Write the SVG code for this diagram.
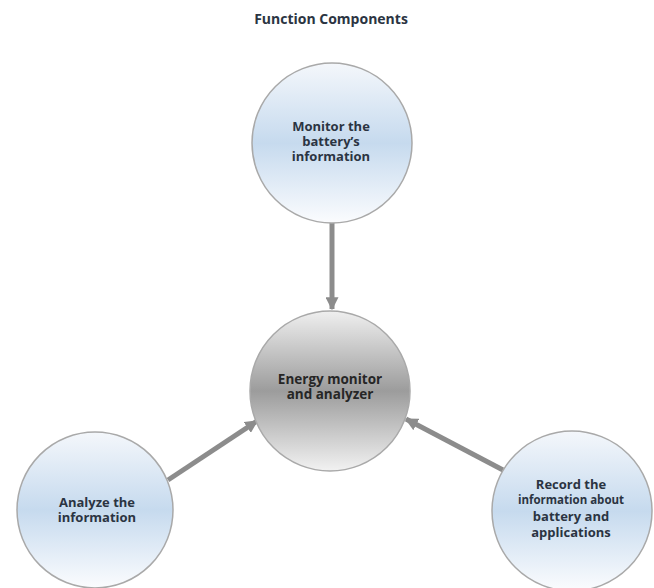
<svg xmlns="http://www.w3.org/2000/svg" width="654" height="588" viewBox="0 0 654 588">
<style>
.t{font-family:"Open Sans","DejaVu Sans",sans-serif;font-weight:bold;fill:#2b3442;text-anchor:middle}
.n{stroke:#a9a9a9;stroke-width:1.5}
.c{stroke:#8c8c8c;stroke-width:5;fill:none}
</style>
<defs>
<linearGradient id="blue" x1="0" y1="0" x2="0" y2="1">
<stop offset="0" stop-color="#f4f7fb"/>
<stop offset="0.5" stop-color="#c6daee"/>
<stop offset="1" stop-color="#fbfcfe"/>
</linearGradient>
<linearGradient id="grey" x1="0" y1="0" x2="0" y2="1">
<stop offset="0" stop-color="#efefef"/>
<stop offset="0.5" stop-color="#9c9c9c"/>
<stop offset="1" stop-color="#f2f2f2"/>
</linearGradient>
<marker id="ah" viewBox="0 0 10 10" refX="9" refY="5" markerWidth="2.6" markerHeight="2.6" orient="auto" markerUnits="strokeWidth">
<path d="M0,0 L10,5 L0,10 z" fill="#8c8c8c"/>
</marker>
</defs>
<text class="t" x="331" y="24" font-size="14">Function Components</text>
<g id="connectors">
<line class="c" x1="332" y1="223" x2="332" y2="309" marker-end="url(#ah)"/>
<line class="c" x1="168" y1="480" x2="257" y2="421" marker-end="url(#ah)"/>
<line class="c" x1="503" y1="470" x2="406" y2="419" marker-end="url(#ah)"/>
</g>
<g id="monitor">
<circle class="n" cx="332" cy="143" r="80" fill="url(#blue)"/>
<text class="t" font-size="13"><tspan x="331" y="131">Monitor the</tspan><tspan x="331" y="146">battery’s</tspan><tspan x="331" y="161">information</tspan></text>
</g>
<g id="energy">
<circle class="n" cx="330" cy="391" r="80" fill="url(#grey)"/>
<text class="t" font-size="13.5" style="fill:#262626"><tspan x="330" y="384">Energy monitor</tspan><tspan x="330" y="399">and analyzer</tspan></text>
</g>
<g id="analyze">
<circle class="n" cx="95" cy="510" r="78" fill="url(#blue)"/>
<text class="t" font-size="13"><tspan x="97" y="507">Analyze the</tspan><tspan x="97" y="522">information</tspan></text>
</g>
<g id="record">
<circle class="n" cx="572" cy="511" r="80" fill="url(#blue)"/>
<text class="t" font-size="13"><tspan x="571" y="489">Record the</tspan><tspan x="571" y="504" font-size="11.5">information about</tspan><tspan x="571" y="521">battery and</tspan><tspan x="571" y="537">applications</tspan></text>
</g>
</svg>
